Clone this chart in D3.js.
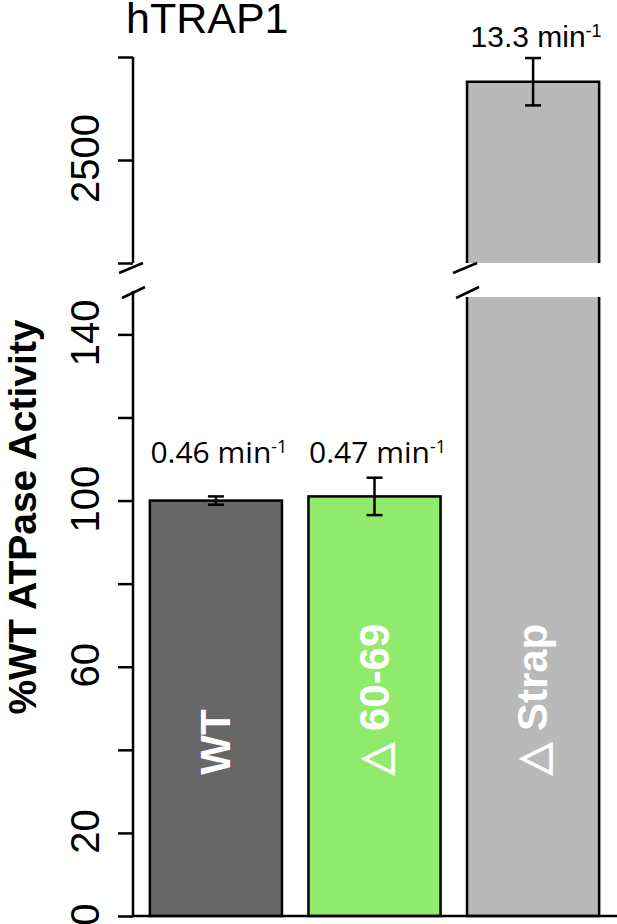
<!DOCTYPE html>
<html lang="en">
  <head>
    <meta charset="UTF-8" />
    <title>hTRAP1 ATPase</title>
    <style>
      body {
        margin: 0;
        background: #fff;
      }
      svg {
        display: block;
        font-family: "Liberation Sans", Arial, sans-serif;
      }
    </style>
  </head>
  <body>
    <svg id="svg" width="617" height="924"></svg>
    <script src="https://cdn.jsdelivr.net/npm/d3@7"></script>
    <script>
      // DATA
      const categories = ["WT", "d60-69", "dStrap"];
      const barLabels = ["WT", "\u25B3 60-69", "\u25B3 Strap"];
      const activity = [100, 101, 2880];
      const errors = [1, 4.5, 115];
      const rates = ["0.46", "0.47", "13.3"];
      const colors = ["#676767", "#90ea6b", "#b9b9b9"];
      const lowTicks = [0, 20, 40, 60, 80, 100, 120, 140];
      const lowLabels = [0, 20, 60, 100, 140];
      const highTicks = [2000, 2500, 3000];
      const highLabels = [2500];

      // CONSTANTS
      const AXIS_X = 133;
      const LOW_MAX = 149;
      const BREAK_TOP = 263; // bottom of upper panel
      const BREAK_BOTTOM = 297; // top of lower panel

      const svg = d3.select("#svg");

      const x = d3
        .scaleBand()
        .domain(categories)
        .range([134, 615])
        .paddingInner(0.167)
        .paddingOuter(0.1);

      const yLow = d3.scaleLinear().domain([0, LOW_MAX]).range([916, BREAK_BOTTOM]);
      const yHigh = d3.scaleLinear().domain([2000, 3000]).range([BREAK_TOP, 57]);

      const bars = categories.map((c, i) => ({
        c,
        v: activity[i],
        e: errors[i],
        label: barLabels[i],
        rate: rates[i],
        color: colors[i],
        high: activity[i] > LOW_MAX,
      }));

      // bars (lower panel)
      const lowBars = svg.append("g");
      lowBars
        .selectAll("rect")
        .data(bars)
        .enter()
        .append("rect")
        .attr("x", (d) => x(d.c))
        .attr("width", x.bandwidth())
        .attr("y", (d) => yLow(Math.min(d.v, LOW_MAX)))
        .attr("height", (d) => yLow(0) - yLow(Math.min(d.v, LOW_MAX)))
        .attr("fill", (d) => d.color)
        .attr("stroke", (d) => (d.high ? "none" : "#000"))
        .attr("stroke-width", 2.5);

      // bars that cross the break: upper part + open sides
      const broken = bars.filter((d) => d.high);
      const highBars = svg.append("g");
      highBars
        .selectAll("rect")
        .data(broken)
        .enter()
        .append("rect")
        .attr("x", (d) => x(d.c))
        .attr("width", x.bandwidth())
        .attr("y", (d) => yHigh(d.v))
        .attr("height", (d) => BREAK_TOP - yHigh(d.v))
        .attr("fill", (d) => d.color);
      highBars
        .selectAll("path.outline-high")
        .data(broken)
        .enter()
        .append("path")
        .attr("class", "outline-high")
        .attr("d", (d) => {
          const x0 = x(d.c), x1 = x0 + x.bandwidth();
          return `M${x0},${BREAK_TOP}V${yHigh(d.v)}H${x1}V${BREAK_TOP}`;
        })
        .attr("fill", "none")
        .attr("stroke", "#000")
        .attr("stroke-width", 2.5);
      highBars
        .selectAll("path.outline-low")
        .data(broken)
        .enter()
        .append("path")
        .attr("class", "outline-low")
        .attr("d", (d) => {
          const x0 = x(d.c), x1 = x0 + x.bandwidth();
          return `M${x0},${BREAK_BOTTOM}V${yLow(0)}H${x1}V${BREAK_BOTTOM}`;
        })
        .attr("fill", "none")
        .attr("stroke", "#000")
        .attr("stroke-width", 2.5);

      // error bars
      const yOf = (d, v) => (d.high ? yHigh(v) : yLow(v));
      const err = svg.append("g").attr("stroke", "#000").attr("stroke-width", 2.5);
      bars.forEach((d) => {
        const cx = x(d.c) + x.bandwidth() / 2;
        const top = yOf(d, d.v + d.e);
        const bot = yOf(d, d.v - d.e);
        err.append("line").attr("x1", cx).attr("x2", cx).attr("y1", top).attr("y2", bot);
        [top, bot].forEach((yy) =>
          err.append("line").attr("x1", cx - 8).attr("x2", cx + 8).attr("y1", yy).attr("y2", yy)
        );
      });

      // labels inside bars
      svg
        .append("g")
        .selectAll("text")
        .data(bars)
        .enter()
        .append("text")
        .attr(
          "transform",
          (d) => `translate(${x(d.c) + x.bandwidth() / 2 + 14}, ${yLow(34)}) rotate(-90)`
        )
        .attr("fill", "#fff")
        .style("font-size", "42px")
        .style("font-weight", "bold")
        .text((d) => d.label);

      // rate labels
      const rateText = svg
        .append("g")
        .selectAll("text")
        .data(bars)
        .enter()
        .append("text")
        .attr("x", (d) => x(d.c) + x.bandwidth() / 2 + 3)
        .attr("y", (d) => (d.high ? yHigh(d.v + d.e) - 11 : yLow(109)))
        .attr("text-anchor", "middle")
        .style("font-family", (d) => (d.high ? "'Liberation Sans'" : "'Open Sans'"))
        .style("font-size", "30px");
      rateText.append("tspan").text((d) => `${d.rate} min`);
      rateText
        .append("tspan")
        .attr("dy", "-0.55em")
        .style("font-size", "18px")
        .text("-1");

      // lower axis
      const lowAxis = svg
        .append("g")
        .attr("transform", `translate(${AXIS_X},0)`)
        .call(
          d3
            .axisLeft(yLow)
            .tickValues(lowTicks)
            .tickSize(15)
            .tickFormat((d) => (lowLabels.includes(d) ? d : ""))
        );
      lowAxis.select(".domain").attr("d", `M0,${yLow(0)}V${BREAK_BOTTOM - 6}`);

      // upper axis
      const highAxis = svg
        .append("g")
        .attr("transform", `translate(${AXIS_X},0)`)
        .call(
          d3
            .axisLeft(yHigh)
            .tickValues(highTicks)
            .tickSize(15)
            .tickFormat((d) => (highLabels.includes(d) ? d : ""))
        );
      highAxis.select(".domain").attr("d", `M0,${BREAK_TOP}V${yHigh(3000)}`);

      [lowAxis, highAxis].forEach((ax) => {
        ax.selectAll("path, line").attr("stroke", "#000").attr("stroke-width", 2.5);
        ax.selectAll("text")
          .attr("x", null)
          .attr("dy", null)
          .attr("fill", "#000")
          .attr("text-anchor", "middle")
          .attr("transform", "translate(-34,-2) rotate(-90)")
          .style("font-family", "'Liberation Sans'")
          .style("font-size", "40px");
      });

      // bottom baseline
      svg
        .append("line")
        .attr("x1", AXIS_X)
        .attr("x2", 617)
        .attr("y1", yLow(0))
        .attr("y2", yLow(0))
        .attr("stroke", "#000")
        .attr("stroke-width", 2.5);

      // break marks on the axis and on broken bars
      const breakXs = [AXIS_X].concat(broken.map((d) => x(d.c)));
      const marks = svg.append("g").attr("stroke", "#000").attr("stroke-width", 2.5);
      breakXs.forEach((bx) => {
        marks.append("line").attr("x1", bx - 14).attr("y1", BREAK_TOP + 10).attr("x2", bx + 10).attr("y2", BREAK_TOP);
        marks.append("line").attr("x1", bx - 11).attr("y1", BREAK_BOTTOM + 1).attr("x2", bx + 12).attr("y2", BREAK_BOTTOM - 10);
      });

      // title and axis label
      svg
        .append("text")
        .attr("x", 126)
        .attr("y", 33)
        .style("font-size", "43px")
        .text("hTRAP1");

      svg
        .append("text")
        .attr("transform", "translate(36, 517) rotate(-90)")
        .attr("text-anchor", "middle")
        .style("font-size", "39px")
        .style("font-weight", "bold")
        .text("%WT ATPase Activity");
    </script>
  </body>
</html>
